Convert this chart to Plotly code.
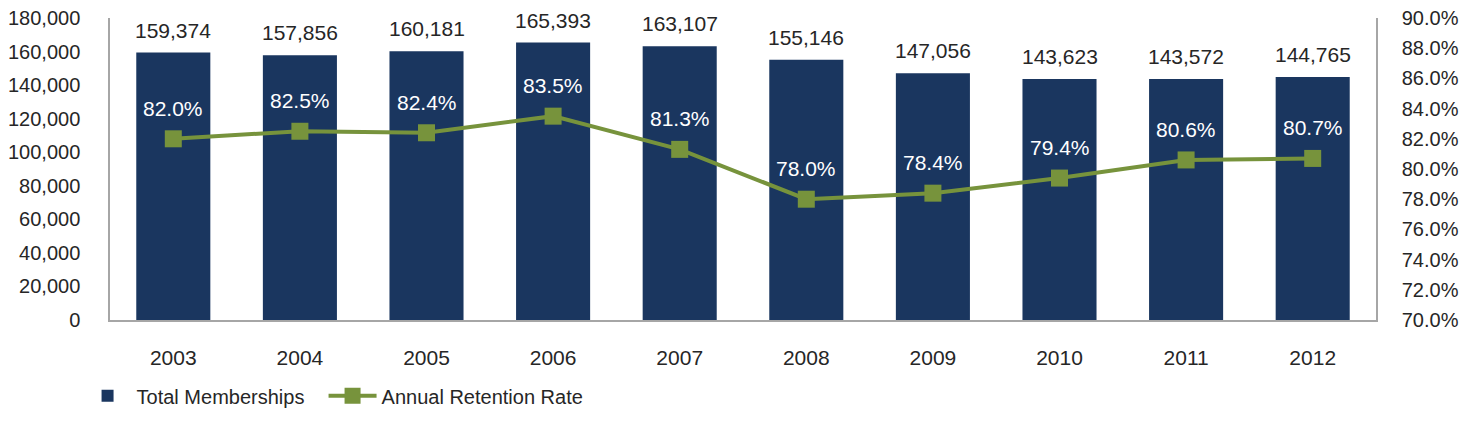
import plotly.graph_objects as go

years = ["2003", "2004", "2005", "2006", "2007", "2008", "2009", "2010", "2011", "2012"]
memberships = [159374, 157856, 160181, 165393, 163107, 155146, 147056, 143623, 143572, 144765]
retention = [0.820, 0.825, 0.824, 0.835, 0.813, 0.780, 0.784, 0.794, 0.806, 0.807]

BAR = "#1A365F"
GREEN = "#77933C"
TXT = "#262626"
FONT = "Liberation Sans"

fig = go.Figure()
fig.add_trace(go.Bar(
    x=years, y=memberships, name="Total Memberships",
    marker=dict(color=BAR, line=dict(width=0)), width=0.585,
    hoverinfo="skip", legendwidth=182,
))
fig.add_trace(go.Scatter(
    x=years, y=retention, name="Annual Retention Rate", yaxis="y2",
    mode="lines+markers",
    line=dict(color=GREEN, width=4),
    marker=dict(symbol="square", size=17, color=GREEN),
    hoverinfo="skip", legendwidth=230,
))

annotations = []
for i, v in enumerate(memberships):
    annotations.append(dict(x=i, y=v, xref="x", yref="y", text=f"{v:,}",
                            showarrow=False, yanchor="bottom", yshift=9,
                            font=dict(family=FONT, size=21, color=TXT)))
for i, r in enumerate(retention):
    annotations.append(dict(x=i, y=r, xref="x", yref="y2", text=f"{r*100:.1f}%",
                            showarrow=False, yanchor="bottom", yshift=17,
                            font=dict(family=FONT, size=21, color="white")))

fig.update_layout(
    width=1470, height=427,
    margin=dict(l=102, r=102, t=10, b=115),
    paper_bgcolor="white", plot_bgcolor="white",
    font=dict(family=FONT, size=20, color=TXT),
    bargap=0.415,
    showlegend=True,
    legend=dict(orientation="h", xref="container", yref="container",
                x=0.048, y=0.092, xanchor="left", yanchor="middle",
                font=dict(family=FONT, size=20, color=TXT),
                itemwidth=48, traceorder="normal"),
    xaxis=dict(type="category", range=[-0.5, 9.5], showline=True, linecolor="#A6A6A6",
               linewidth=1.5, automargin=False,
               ticks="", ticklabelstandoff=18, showgrid=False,
               tickfont=dict(family=FONT, size=21, color=TXT)),
    yaxis=dict(range=[0, 180000], dtick=20000, tickformat=",", automargin=False,
               showline=True, linecolor="#A6A6A6", linewidth=1.5,
               showgrid=False, zeroline=False, ticks="", ticklabelstandoff=24,
               ticklabeloverflow="allow",
               tickfont=dict(family=FONT, size=20, color=TXT)),
    yaxis2=dict(range=[0.70, 0.90], dtick=0.02, tickformat=".1%", overlaying="y",
                side="right", showline=True, linecolor="#A6A6A6", linewidth=1.5,
                showgrid=False, zeroline=False, ticks="", ticklabelstandoff=20,
                automargin=False, ticklabeloverflow="allow",
                tickfont=dict(family=FONT, size=20, color=TXT)),
    annotations=annotations,
)

fig.write_html("out.html")
